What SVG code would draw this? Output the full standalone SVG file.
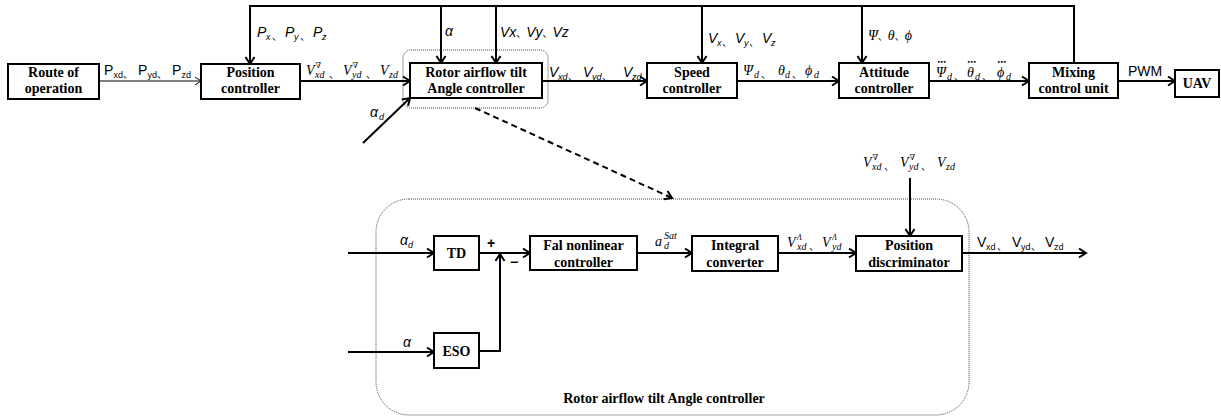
<svg xmlns="http://www.w3.org/2000/svg" width="1221" height="416" viewBox="0 0 1221 416">
<style>
.box{fill:#fff;stroke:#000;stroke-width:2}
.bt{font-family:"Liberation Serif",serif;font-weight:bold;font-size:14px;text-anchor:middle;fill:#000}
.ln{fill:none;stroke:#000;stroke-width:2}
.thin{fill:none;stroke:#000;stroke-width:1}
.dot{fill:none;stroke:#444;stroke-width:1;stroke-dasharray:1 1}
.dash{fill:none;stroke:#000;stroke-width:2;stroke-dasharray:6 4}
.m{font-family:"Liberation Serif","DejaVu Serif","Noto Sans CJK SC",serif;font-style:italic;font-size:14px;fill:#000}
.s{font-family:"Liberation Sans","Noto Sans CJK SC",sans-serif;font-size:14px;fill:#000}
.si{font-family:"Liberation Sans","Noto Sans CJK SC",sans-serif;font-style:italic;font-size:14px;fill:#000}
.sub{font-size:10px}
.sub9{font-size:9px}
.sup{font-size:8px}
.cj{font-family:"Noto Sans CJK SC",sans-serif;font-style:normal;font-size:10px}
.dd{font-family:"DejaVu Sans",sans-serif;font-style:normal;font-weight:bold;font-size:9px}
</style>
<defs>
<marker id="ah" viewBox="0 0 12 12" refX="9" refY="6" markerWidth="12" markerHeight="12" markerUnits="userSpaceOnUse" orient="auto"><path d="M2,1.5 L9,6 L2,10.5" fill="none" stroke="#000" stroke-width="2"/></marker>
<marker id="aht" viewBox="0 0 12 12" refX="10" refY="6" markerWidth="12" markerHeight="12" markerUnits="userSpaceOnUse" orient="auto"><path d="M4,2 L10,6 L4,10" fill="none" stroke="#000" stroke-width="1"/></marker>
</defs>

<!-- dotted frames -->
<rect class="dot" x="403" y="50" width="145" height="58" rx="8"/>
<rect class="dot" x="376" y="199" width="593" height="216" rx="33"/>

<g id="connectors">
<line class="thin" x1="99" y1="81" x2="201" y2="81" marker-end="url(#aht)"/>
<line class="ln" x1="300" y1="81" x2="410" y2="81" marker-end="url(#ah)"/>
<line class="ln" x1="363" y1="143" x2="410" y2="98" marker-end="url(#ah)"/>
<line class="ln" x1="542" y1="81" x2="647" y2="81" marker-end="url(#ah)"/>
<line class="ln" x1="737" y1="81" x2="839" y2="81" marker-end="url(#ah)"/>
<line class="ln" x1="929" y1="81" x2="1029" y2="81" marker-end="url(#ah)"/>
<line class="ln" x1="1118" y1="81" x2="1175" y2="81" marker-end="url(#ah)"/>
<polyline class="ln" points="1074,63 1074,6 249,6"/>
<line class="ln" x1="250" y1="6" x2="250" y2="64" marker-end="url(#ah)"/>
<line class="ln" x1="441" y1="6" x2="441" y2="63" marker-end="url(#ah)"/>
<line class="ln" x1="496" y1="6" x2="496" y2="63" marker-end="url(#ah)"/>
<line class="ln" x1="702" y1="6" x2="702" y2="63" marker-end="url(#ah)"/>
<line class="ln" x1="862" y1="6" x2="862" y2="63" marker-end="url(#ah)"/>
<line class="dash" x1="475" y1="108" x2="672" y2="198" marker-end="url(#ah)"/>
<line class="ln" x1="348" y1="253" x2="434" y2="253" marker-end="url(#ah)"/>
<line class="ln" x1="348" y1="352" x2="434" y2="352" marker-end="url(#ah)"/>
<line class="ln" x1="479" y1="253" x2="530" y2="253" marker-end="url(#ah)"/>
<polyline class="ln" points="479,351 500,351 500,254" marker-end="url(#ah)"/>
<line class="ln" x1="637" y1="253" x2="692" y2="253" marker-end="url(#ah)"/>
<line class="ln" x1="778" y1="253" x2="856" y2="253" marker-end="url(#ah)"/>
<line class="ln" x1="910" y1="178" x2="910" y2="236" marker-end="url(#ah)"/>
<line class="ln" x1="953" y1="253" x2="1086" y2="253" marker-end="url(#ah)"/>
</g>

<g id="route"><rect class="box" x="8" y="64" width="91" height="35"/><text class="bt" x="53.5" y="77">Route of</text><text class="bt" x="53.5" y="93">operation</text></g>
<g id="position"><rect class="box" x="201" y="64" width="99" height="35"/><text class="bt" x="250.5" y="77">Position</text><text class="bt" x="250.5" y="93">controller</text></g>
<g id="rotor"><rect class="box" x="410" y="63" width="132" height="35"/><text class="bt" x="476" y="77">Rotor airflow tilt</text><text class="bt" x="476" y="93">Angle controller</text></g>
<g id="speed"><rect class="box" x="647" y="63" width="90" height="35"/><text class="bt" x="692" y="77">Speed</text><text class="bt" x="692" y="93">controller</text></g>
<g id="attitude"><rect class="box" x="839" y="63" width="90" height="35"/><text class="bt" x="884" y="77">Attitude</text><text class="bt" x="884" y="93">controller</text></g>
<g id="mixing"><rect class="box" x="1029" y="63" width="89" height="35"/><text class="bt" x="1073.5" y="77">Mixing</text><text class="bt" x="1073.5" y="93">control unit</text></g>
<g id="uav"><rect class="box" x="1175" y="70" width="44" height="27"/><text class="bt" x="1197" y="88">UAV</text></g>
<g id="td"><rect class="box" x="434" y="236" width="45" height="34"/><text class="bt" x="456.5" y="258">TD</text></g>
<g id="eso"><rect class="box" x="434" y="333" width="45" height="35"/><text class="bt" x="456.5" y="356">ESO</text></g>
<g id="fal"><rect class="box" x="530" y="236" width="107" height="34"/><text class="bt" x="583.5" y="250">Fal nonlinear</text><text class="bt" x="583.5" y="267">controller</text></g>
<g id="integral"><rect class="box" x="692" y="236" width="86" height="35"/><text class="bt" x="735" y="250">Integral</text><text class="bt" x="735" y="267">converter</text></g>
<g id="discriminator"><rect class="box" x="856" y="236" width="106" height="35"/><text class="bt" x="909" y="250">Position</text><text class="bt" x="909" y="267">discriminator</text></g>

<g id="labels">
<text class="s"><tspan x="104" y="75">P</tspan><tspan class="sub9" x="113.5" y="78">xd</tspan><tspan class="cj" x="123" y="78">、</tspan><tspan x="138" y="75">P</tspan><tspan class="sub9" x="147.5" y="78">yd</tspan><tspan class="cj" x="157" y="78">、</tspan><tspan x="172" y="75">P</tspan><tspan class="sub9" x="181.5" y="78">zd</tspan></text>
<text class="si"><tspan x="257" y="37">P</tspan><tspan class="sub9" x="266" y="40">x</tspan><tspan class="cj" x="272" y="40">、</tspan><tspan x="285" y="37">P</tspan><tspan class="sub9" x="294" y="40">y</tspan><tspan class="cj" x="300" y="40">、</tspan><tspan x="313" y="37">P</tspan><tspan class="sub9" x="322" y="40">z</tspan></text>
<text class="si" x="445" y="36">α</text>
<text class="si" x="500" y="37">Vx<tspan class="cj" font-size="14">、</tspan>Vy<tspan class="cj" font-size="14">、</tspan>Vz</text>
<text class="m"><tspan x="306" y="75">V</tspan><tspan class="sup" x="315.5" y="68">∇</tspan><tspan class="sub" x="315" y="78">xd</tspan><tspan class="cj" x="329" y="78">、</tspan><tspan x="343" y="75">V</tspan><tspan class="sup" x="352.5" y="68">∇</tspan><tspan class="sub" x="352" y="78">yd</tspan><tspan class="cj" x="366" y="78">、</tspan><tspan x="380" y="75">V</tspan><tspan class="sub" x="389" y="78">zd</tspan></text>
<text class="si"><tspan x="370" y="117">α</tspan><tspan class="sub9" x="379" y="120">d</tspan></text>
<text class="si"><tspan x="549" y="77">V</tspan><tspan class="sub9" x="558" y="80">xd</tspan><tspan class="cj" x="568" y="80">、</tspan><tspan x="583" y="77">V</tspan><tspan class="sub9" x="592" y="80">yd</tspan><tspan class="cj" x="602" y="80">、</tspan><tspan x="623" y="77">V</tspan><tspan class="sub9" x="632" y="80">zd</tspan></text>
<text class="si"><tspan x="708" y="43">V</tspan><tspan class="sub9" x="717" y="46">x</tspan><tspan class="cj" x="722" y="46">、</tspan><tspan x="735" y="43">V</tspan><tspan class="sub9" x="744" y="46">y</tspan><tspan class="cj" x="749" y="46">、</tspan><tspan x="762" y="43">V</tspan><tspan class="sub9" x="771" y="46">z</tspan></text>
<text class="m"><tspan x="743" y="75">Ψ</tspan><tspan class="sub" x="754" y="78">d</tspan><tspan class="cj" x="761" y="78">、</tspan><tspan x="778" y="75">θ</tspan><tspan class="sub" x="785" y="78">d</tspan><tspan class="cj" x="792" y="78">、</tspan><tspan x="805" y="75">ϕ</tspan><tspan class="sub" x="814" y="78">d</tspan></text>
<text class="m" x="868" y="40">Ψ<tspan class="cj" font-size="14">、</tspan>θ<tspan class="cj" font-size="14">、</tspan>ϕ</text>
<text class="m"><tspan class="dd" x="937" y="65">⋯</tspan><tspan x="936" y="77">Ψ</tspan><tspan class="sub" x="947" y="80">d</tspan><tspan class="cj" x="954" y="80">、</tspan><tspan class="dd" x="967" y="65">⋯</tspan><tspan x="967" y="77">θ</tspan><tspan class="sub" x="975" y="80">d</tspan><tspan class="cj" x="982" y="80">、</tspan><tspan class="dd" x="997" y="65">⋯</tspan><tspan x="997" y="77">ϕ</tspan><tspan class="sub" x="1006" y="80">d</tspan></text>
<text class="s" x="1128" y="76">PWM</text>
<text class="si"><tspan x="400" y="245">α</tspan><tspan class="sub9" x="408" y="248">d</tspan></text>
<text class="si" x="403" y="347">α</text>
<text class="s" x="487" y="248" font-weight="bold">+</text>
<text class="s" x="510" y="267" font-weight="bold">−</text>
<text class="m"><tspan x="655" y="246">a</tspan><tspan font-size="10" x="664" y="239">Sat</tspan><tspan class="sub" x="664" y="249">d</tspan></text>
<text class="m"><tspan x="787" y="247">V</tspan><tspan class="sup" x="797" y="240">Λ</tspan><tspan class="sub" x="797" y="250">xd</tspan><tspan class="cj" x="809" y="250">、</tspan><tspan x="822" y="247">V</tspan><tspan class="sup" x="832" y="240">Λ</tspan><tspan class="sub" x="832" y="250">yd</tspan></text>
<text class="m"><tspan x="863" y="167">V</tspan><tspan class="sup" x="872.5" y="160">∇</tspan><tspan class="sub" x="872" y="170">xd</tspan><tspan class="cj" x="884" y="170">、</tspan><tspan x="900" y="167">V</tspan><tspan class="sup" x="909.5" y="160">∇</tspan><tspan class="sub" x="909" y="170">yd</tspan><tspan class="cj" x="921" y="170">、</tspan><tspan x="937" y="167">V</tspan><tspan class="sub" x="946" y="170">zd</tspan></text>
<text class="s"><tspan x="977" y="247">V</tspan><tspan class="sub9" x="986" y="250">xd</tspan><tspan class="cj" x="997" y="250">、</tspan><tspan x="1012" y="247">V</tspan><tspan class="sub9" x="1021" y="250">yd</tspan><tspan class="cj" x="1031" y="250">、</tspan><tspan x="1045" y="247">V</tspan><tspan class="sub9" x="1054" y="250">zd</tspan></text>
<text class="bt" x="664" y="403" font-size="16">Rotor airflow tilt Angle controller</text>
</g>
</svg>
